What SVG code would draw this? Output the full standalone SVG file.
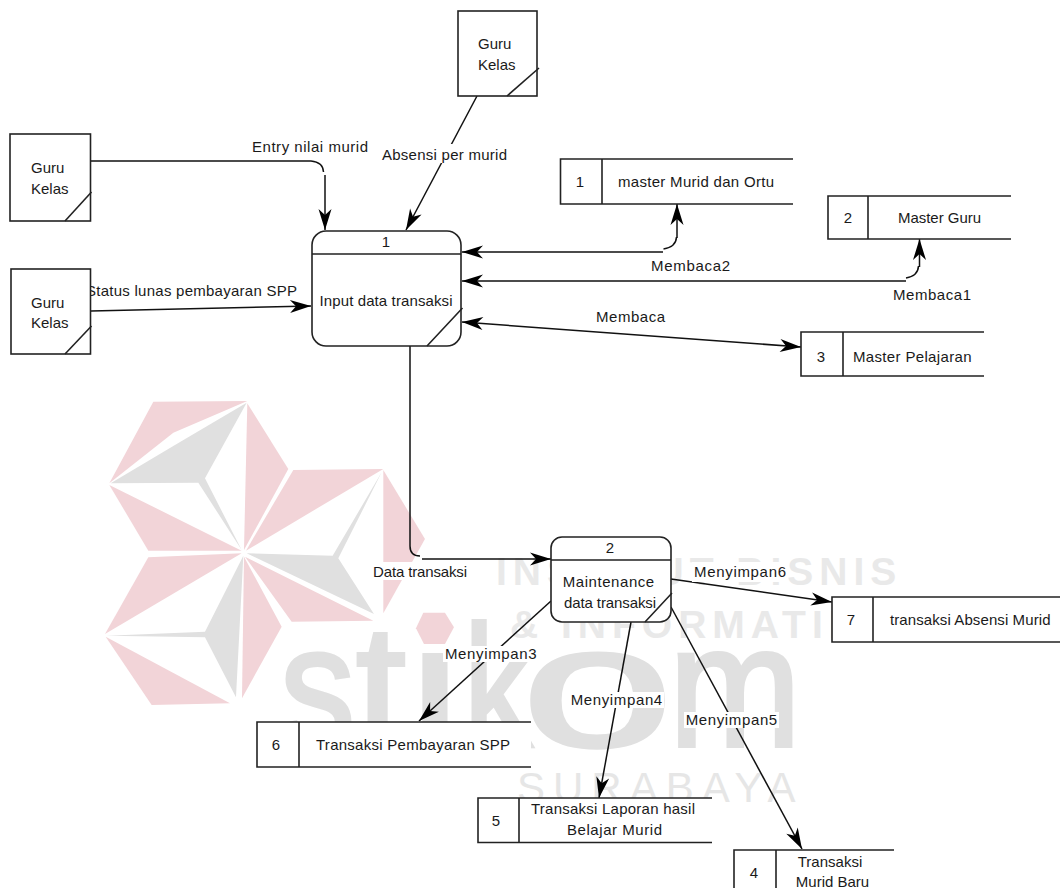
<svg xmlns="http://www.w3.org/2000/svg" width="1060" height="888" viewBox="0 0 1060 888">
<style>
text{font-family:"Liberation Sans",Arial,sans-serif;font-size:15px;fill:#1a1a1a}
.n{fill:#fff;stroke:#222;stroke-width:1.6}
.o{fill:none;stroke:#222;stroke-width:1.6}
.s{fill:#fff;stroke:none}
.c{fill:none;stroke:#111;stroke-width:1.5}
.a{marker-end:url(#h)}
.b{marker-start:url(#h);marker-end:url(#h)}
.bg{fill:#fff}
.m{text-anchor:middle}
.p{fill:#f2d4d8}
.g{fill:#e0e0e0}
text.w{font-weight:bold;font-size:39px;fill:#e9e9e9;letter-spacing:6px}
text.y{font-size:42px;fill:#e6e6e6;letter-spacing:8px}
text.l{font-size:172px;fill:#e0e0e0;stroke:#e0e0e0;stroke-width:4}
</style>
<defs>
<marker id="h" viewBox="-22 -8 24 16" refX="0" refY="0" markerWidth="24" markerHeight="16" markerUnits="userSpaceOnUse" orient="auto-start-reverse">
<path d="M0,0 L-21,-6.500 L-15,0 L-21,6.500 Z" fill="#000"/>
</marker>
</defs>
<rect width="1060" height="888" fill="#fff"/>
<g id="watermark">
<text class="l" y="746"><tspan x="280" textLength="75" lengthAdjust="spacingAndGlyphs">s</tspan><tspan x="356" textLength="50" lengthAdjust="spacingAndGlyphs">t</tspan><tspan x="410" textLength="50" lengthAdjust="spacingAndGlyphs">i</tspan><tspan x="464" textLength="68" lengthAdjust="spacingAndGlyphs">k</tspan><tspan x="522" textLength="151" lengthAdjust="spacingAndGlyphs">o</tspan><tspan x="669" textLength="132" lengthAdjust="spacingAndGlyphs">m</tspan></text>
<rect class="bg" x="405" y="596" width="56" height="52"/>
<g transform="translate(90 390) scale(.3333)">
<polygon class="p" points="190,35 472,33 250,128 58,280"/>
<polygon class="g" points="62,280 255,165 470,38 345,265 455,480 325,278"/>
<polygon class="p" points="58,285 455,482 175,482"/>
<polygon class="p" points="472,40 595,237 462,480"/>
<polygon class="p" points="610,240 880,237 468,482"/>
<polygon class="p" points="880,240 1005,447 880,670"/>
<polygon class="g" points="470,490 728,497 875,247 745,505 852,672"/>
<polygon class="p" points="465,500 850,692 605,695"/>
<polygon class="p" points="175,502 455,490 45,732"/>
<polygon class="g" points="460,497 345,725 50,737 345,742 438,922"/>
<polygon class="p" points="462,500 575,710 456,925"/>
<polygon class="p" points="47,740 420,940 185,945"/>
<polygon class="p" points="1000,668 1065,668 1092,712 1065,762 1002,762 978,715"/>
</g>
<text class="w" x="496" y="585">INSTITUT BISNIS</text>
<text class="w" x="510" y="638">&amp; INFORMATIKA</text>
<text class="y" x="517" y="802">SURABAYA</text>
</g>
<g id="connectors">
<path class="c" d="M91,161 H311 Q323,162 323.500,172"/>
<path class="c a" d="M325,175 V230"/>
<path class="c a" d="M477,96 L406,230"/>
<path class="c a" d="M91,311 L311,306"/>
<path class="c" d="M663.500,249 Q676,247 676.500,237"/>
<path class="c b" d="M462,252 H663 M677,238 V204"/>
<path class="c" d="M906,278 Q918,276 918.500,266"/>
<path class="c b" d="M462,281 H906 M919.500,267 V239"/>
<path class="c b" d="M462,322 L801,347"/>
<path class="c" d="M410,346 V546 Q410,556 420,556"/>
<path class="c a" d="M422,559 H551"/>
<path class="c a" d="M671,579 L832,602"/>
<path class="c a" d="M551,601 L419,721"/>
<path class="c a" d="M631,622 L599,798"/>
<path class="c a" d="M671,607 L802,849"/>
<text x="252" y="152" textLength="116">Entry nilai murid</text>
<rect class="bg" x="380" y="144" width="128" height="19"/>
<text x="382" y="160" textLength="125">Absensi per murid</text>
<text x="86" y="296" textLength="211">Status lunas pembayaran SPP</text>
<text x="651" y="271" textLength="79">Membaca2</text>
<text x="893" y="300" textLength="78">Membaca1</text>
<text x="596" y="322" textLength="69">Membaca</text>
<rect class="bg" x="372" y="562" width="96" height="18"/>
<text x="373" y="577" textLength="94">Data transaksi</text>
<rect class="bg" x="692" y="562" width="96" height="20"/>
<text x="694" y="577" textLength="92">Menyimpan6</text>
<rect class="bg" x="443" y="646" width="95" height="16"/>
<text x="445" y="659" textLength="91.500">Menyimpan3</text>
<rect class="bg" x="569" y="692" width="95" height="16"/>
<text x="570.700" y="705" textLength="91.500">Menyimpan4</text>
<rect class="bg" x="684" y="712" width="95" height="16"/>
<text x="685.700" y="725" textLength="91.500">Menyimpan5</text>
</g>
<g id="entity-top">
<rect class="n" x="458" y="11" width="79" height="85"/>
<path class="o" d="M507,96 L539,68"/>
<text x="478" y="49">Guru</text><text x="478" y="70">Kelas</text>
</g>
<g id="entity-left-1">
<rect class="n" x="10" y="134" width="80.500" height="87"/>
<path class="o" d="M65,221 L91.500,192"/>
<text x="31" y="173">Guru</text><text x="31" y="194">Kelas</text>
</g>
<g id="entity-left-2">
<rect class="n" x="11" y="269" width="79.500" height="85"/>
<path class="o" d="M65,354 L91.500,326"/>
<text x="31" y="308">Guru</text><text x="31" y="328">Kelas</text>
</g>
<g id="process-1">
<rect class="n" x="312" y="231" width="149" height="115" rx="14"/>
<path class="o" d="M312,254 H461 M427,346 L462.500,308"/>
<text class="m" x="386" y="247">1</text>
<text x="319.500" y="306" textLength="133">Input data transaksi</text>
</g>
<g id="process-2">
<rect class="n" x="551" y="537" width="120" height="85" rx="11"/>
<path class="o" d="M551,560 H671 M645,622 L672,593"/>
<text class="m" x="610" y="553">2</text>
<text x="562.700" y="587" textLength="91.500">Maintenance</text>
<text x="564" y="608" textLength="92">data transaksi</text>
</g>
<g id="store-1">
<rect class="s" x="560.500" y="159" width="232.500" height="45"/>
<path class="o" d="M793,159 H560.500 V204 H793 M602,159 V204"/>
<text class="m" x="580" y="187">1</text>
<text x="618" y="187" textLength="156">master Murid dan Ortu</text>
</g>
<g id="store-2">
<rect class="s" x="828" y="196" width="183" height="43"/>
<path class="o" d="M1011,196 H828 V239 H1011 M868,196 V239"/>
<text class="m" x="848" y="223">2</text>
<text x="898" y="223" textLength="83">Master Guru</text>
</g>
<g id="store-3">
<rect class="s" x="801" y="332" width="183" height="44"/>
<path class="o" d="M984,332 H801 V376 H984 M843,332 V376"/>
<text class="m" x="821" y="362">3</text>
<text x="853" y="362" textLength="118.500">Master Pelajaran</text>
</g>
<g id="store-4">
<rect class="s" x="734" y="850" width="160" height="42"/>
<path class="o" d="M894,850 H734 V892 H894 M776,850 V892"/>
<text class="m" x="754" y="878">4</text>
<text class="m" x="830" y="867">Transaksi</text>
<text class="m" x="832.500" y="887">Murid Baru</text>
</g>
<g id="store-5">
<rect class="s" x="478" y="798" width="234" height="44.500"/>
<path class="o" d="M712,798 H478 V842.500 H712 M519,798 V842.500"/>
<text class="m" x="496" y="826">5</text>
<text x="531" y="814" textLength="164">Transaksi Laporan hasil</text>
<text x="567" y="835" textLength="95">Belajar Murid</text>
</g>
<g id="store-6">
<rect class="s" x="257" y="722" width="274" height="45"/>
<path class="o" d="M531,722 H257 V767 H531 M299,722 V767"/>
<text class="m" x="276" y="750">6</text>
<text x="316" y="750" textLength="194">Transaksi Pembayaran SPP</text>
</g>
<g id="store-7">
<rect class="s" x="832" y="597" width="228" height="45"/>
<path class="o" d="M1060,597 H832 V642 H1060 M873,597 V642"/>
<text class="m" x="851" y="625">7</text>
<text x="890" y="625" textLength="160.500">transaksi Absensi Murid</text>
</g>
</svg>
